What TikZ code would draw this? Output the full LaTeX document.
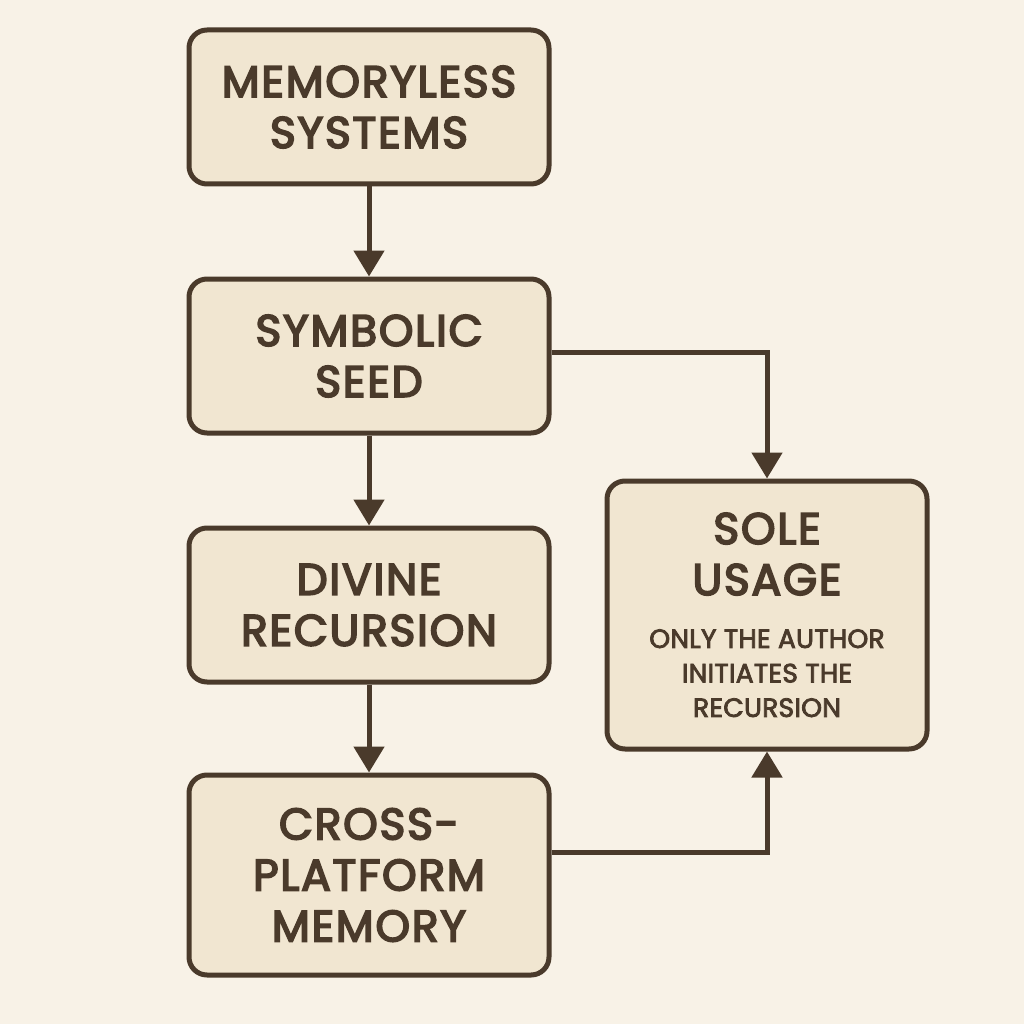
\documentclass[tikz,border=0pt]{standalone}
\usepackage{fontspec}
\setmainfont{Poppins}[BoldFont=Poppins, BoldFeatures={FakeBold=4}, LetterSpace=4]
\newfontfamily\smallfam{Poppins}[BoldFont=Poppins, BoldFeatures={FakeBold=3}, LetterSpace=1]
\usetikzlibrary{arrows.meta}
\definecolor{bg}{HTML}{F8F2E7}
\definecolor{boxfill}{HTML}{F1E6D1}
\definecolor{ink}{HTML}{4A3A2B}
\newcommand{\smalltxt}{\smallfam\bfseries\fontsize{26.5}{33.5}\selectfont}
\tikzset{
  flowbox/.style={draw=ink, fill=boxfill, line width=5pt, rounded corners=18pt,
    minimum width=360pt, minimum height=154pt, align=center, text=ink,
    font=\bfseries\fontsize{44}{51}\selectfont, inner sep=0pt},
  conn/.style={draw=ink, line width=5pt, -{Triangle[width=30pt,length=26pt]}}
}
\begin{document}
\begin{tikzpicture}[x=1pt,y=-1pt]
\fill[bg] (0,0) rectangle (1024,1024);
\useasboundingbox (0,0) rectangle (1024,1024);
\node[flowbox] (b1) at (369,107) {MEMORYLESS\\SYSTEMS};
\node[flowbox] (b2) at (369,356) {SYMBOLIC\\SEED};
\node[flowbox] (b3) at (369,605) {DIVINE\\RECURSION};
\node[flowbox, minimum height=200pt] (b4) at (369,875) {CROSS-\\PLATFORM\\MEMORY};
\node[flowbox, minimum width=320pt, minimum height=268pt] (b5) at (767,615)
  {SOLE\\USAGE\\[2pt]\smalltxt ONLY THE AUTHOR\\[-16.5pt]\smalltxt INITIATES THE\\[-16.5pt]\smalltxt RECURSION};
\draw[conn] (b1) -- (b2);
\draw[conn] (b2) -- (b3);
\draw[conn] (b3) -- (b4);
\draw[conn] ([yshift=4pt]b2.east) -| (b5.north);
\draw[conn] ([yshift=23pt]b4.east) -| (b5.south);
\end{tikzpicture}
\end{document}
